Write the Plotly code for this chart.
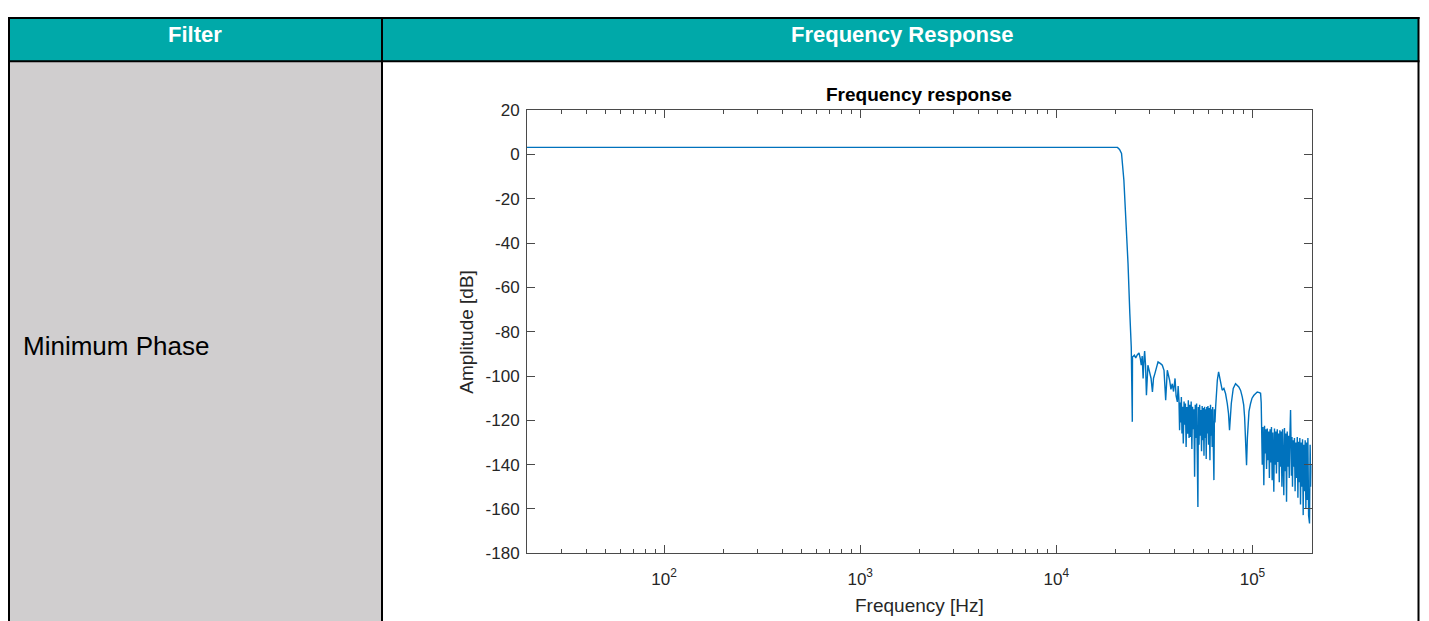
import math
import plotly.graph_objects as go

# ---------------- data ----------------
passband_freq_hz = [20, 100, 1000, 10000, 18000, 20500]
passband_db = [3.2, 3.2, 3.2, 3.2, 3.2, 3.2]

transition_freq_hz = [21000, 21500, 22100, 22600, 23200, 23700, 24100, 24400]
transition_db = [2.3, 0.5, -11.6, -26.6, -49.2, -71.8, -86.9, -120.7]

stopband_freq_khz = [
    24.45, 25.0, 25.4, 25.9, 26.4, 26.8, 27.1, 27.4, 27.7, 28.0, 28.2, 28.5, 28.8, 29.3, 29.9,
    30.4, 30.9, 31.3, 31.8, 32.4, 33.0, 34.0, 34.7, 35.4, 36.1, 36.8, 37.3, 37.8, 38.4, 39.0,
    39.6, 40.3, 40.8, 41.4, 41.8, 42.0,
    42.2, 42.5, 42.8, 43.1, 43.4, 43.7, 44.0, 44.4, 44.8, 45.2, 45.5, 45.9, 46.3, 46.7, 47.1,
    47.5, 47.9, 48.3, 48.7, 49.1, 49.5, 49.9, 50.3, 50.7, 51.1, 51.5, 51.9, 52.3, 52.7, 53.0,
    53.4, 53.8, 54.2, 54.6, 55.0, 55.4, 55.8, 56.2, 56.6, 57.0, 57.4, 57.8, 58.1, 58.5, 58.9,
    59.3, 59.7, 60.1, 60.7, 61.1, 61.5, 61.9, 62.3, 62.7, 63.1, 63.6, 64.0, 64.4, 64.9,
    65.5, 66.2, 67.2, 68.0, 68.8, 70.1, 71.5, 72.9, 74.4, 75.5, 76.4, 77.2, 78.0, 79.8, 82.0,
    85.2, 87.0, 88.7, 90.2, 91.2, 92.4, 93.3, 94.2, 94.8, 96.0, 97.8, 99.5, 101.7, 105.8, 108.5,
    110.0, 110.8, 111.3,
    112.2, 113.1, 114.3, 115.2, 116.1, 117.0, 118.0, 119.0, 120.0, 121.0, 122.0, 123.0, 124.0,
    125.0, 126.0, 127.0, 128.5, 129.5, 130.5, 131.5, 132.5, 133.8, 135.0, 136.0, 137.0, 138.0,
    139.1, 140.2, 141.3, 142.4, 143.5, 144.5, 145.6, 146.7, 147.9, 149.2, 150.4, 151.6, 152.8,
    154.0, 155.1, 156.4, 157.2, 158.0, 159.0, 160.0, 161.0, 162.5, 163.7, 165.0, 166.2, 167.5,
    169.2, 170.5, 171.8, 173.0, 174.4, 175.8, 177.2, 178.6, 180.0, 181.4, 182.8, 184.3, 185.7,
    187.2, 188.7, 190.2, 191.7, 193.3, 195.4, 196.8, 198.4, 200.0,
]
stopband_db = [
    -91.4, -90.6, -91.8, -90.4, -89.6, -92.1, -95.1, -91.0, -101.1, -92.0, -88.7, -95.0, -108.7, -95.1, -98.9,
    -101.0, -107.2, -101.0, -98.9, -95.5, -93.6, -94.4, -95.1, -97.4, -110.9, -97.4, -99.5, -101.9, -106.0, -103.5,
    -107.0, -101.1, -109.0, -111.7, -104.5, -106.4,
    -110.9, -124.5, -112.0, -121.0, -109.5, -126.0, -113.9, -130.5, -111.5, -122.0, -112.4, -132.0, -114.0, -126.0, -110.9,
    -128.0, -113.0, -127.5, -111.5, -133.0, -113.9, -124.0, -115.0, -145.5, -113.0, -128.0, -112.4, -135.0, -159.1, -114.0,
    -131.0, -113.0, -127.0, -115.4, -134.0, -113.5, -129.0, -114.5, -136.0, -113.9, -128.0, -115.0, -137.5, -114.0, -126.0,
    -113.5, -131.0, -114.5, -138.0, -113.0, -127.0, -115.0, -132.0, -114.0, -128.0, -147.0, -115.0, -121.0, -114.0,
    -108.0, -101.9, -98.1, -101.0, -103.4, -106.4, -105.6, -107.9, -112.4, -117.0, -124.5, -117.0, -112.4, -105.6, -103.5,
    -104.9, -106.5, -109.4, -113.0, -118.5, -128.0, -140.3, -128.0, -121.4, -116.0, -112.4, -110.0, -108.7, -107.2, -107.5,
    -107.8, -112.0, -122.2,
    -140.0, -123.0, -149.3, -122.5, -135.0, -124.0, -142.0, -123.7, -138.0, -125.0, -146.0, -124.0, -139.0,
    -123.0, -147.0, -125.5, -152.3, -123.7, -140.0, -125.0, -144.0, -124.0, -138.8, -126.0, -148.0, -124.5,
    -141.0, -125.0, -150.0, -124.0, -139.0, -153.8, -123.5, -143.0, -126.0, -156.8, -125.0, -141.0, -127.0,
    -146.0, -128.0, -115.4, -128.0, -145.0, -127.5, -150.0, -129.0, -141.0, -128.0, -152.0, -130.0, -146.0,
    -127.5, -155.0, -129.7, -148.0, -128.0, -158.0, -130.0, -150.0, -128.5, -162.8, -131.0, -152.0, -129.0,
    -159.8, -130.0, -156.0, -128.0, -163.0, -166.6, -131.0, -150.0, -140.0,
]

x_tick_vals = [100, 1000, 10000, 100000]
x_tick_text = ["10<sup>2</sup>", "10<sup>3</sup>", "10<sup>4</sup>", "10<sup>5</sup>"]
y_tick_vals = [-180, -160, -140, -120, -100, -80, -60, -40, -20, 0, 20]
y_tick_text = ["-180", "-160", "-140", "-120", "-100", "-80", "-60", "-40", "-20", "0", "20"]

header_labels = ["Filter", "Frequency Response"]
row_label = "Minimum Phase"
plot_title = "Frequency response"
x_label = "Frequency [Hz]"
y_label = "Amplitude [dB]"

freq_hz = passband_freq_hz + transition_freq_hz + [f * 1000 for f in stopband_freq_khz]
amp_db = passband_db + transition_db + stopband_db

# ---------------- layout helpers ----------------
# Positions below are given in window pixels; the page places the figure
# 8px from the left and slightly lower, with a small vertical scale.
FW, FH = 1421, 624
OX = 8
TOP = 17.5
SY = 0.968


def px(x):
    return (x - OX) / FW


def py(y):
    return 1 - (y / SY - TOP) / FH


plot_left, plot_right, plot_top, plot_bottom = 527.0, 1311.5, 110.0, 552.3

minor_vals = []
for dec in [10, 100, 1000, 10000, 100000]:
    for m in range(2, 10):
        v = m * dec
        if 20 <= v <= 200000:
            minor_vals.append(v)

fig = go.Figure()
fig.add_trace(go.Scatter(
    x=freq_hz, y=amp_db, mode="lines",
    line=dict(color="#0072BD", width=1.4),
    showlegend=False, hoverinfo="skip",
))

axis_color = "#4a4a4a"
tick_font = dict(family="Liberation Sans, Arial, sans-serif", size=17, color="#262626")

fig.update_layout(
    width=FW, height=FH,
    margin=dict(l=0, r=0, t=0, b=0),
    paper_bgcolor="white", plot_bgcolor="white",
    xaxis=dict(
        type="log",
        domain=[px(plot_left), px(plot_right)],
        range=[math.log10(20), math.log10(200000)],
        tickmode="array", tickvals=x_tick_vals, ticktext=x_tick_text,
        ticks="inside", ticklen=8, tickwidth=1, tickcolor=axis_color,
        showline=True, linecolor=axis_color, linewidth=1, mirror="ticks",
        showgrid=False, zeroline=False,
        tickfont=tick_font, ticklabelstandoff=10,
        minor=dict(tickmode="array", tickvals=minor_vals, ticks="inside",
                   ticklen=4, tickwidth=1, tickcolor=axis_color, showgrid=False),
    ),
    yaxis=dict(
        domain=[py(plot_bottom), py(plot_top)],
        range=[-180, 20],
        tickmode="array", tickvals=y_tick_vals, ticktext=y_tick_text,
        ticks="inside", ticklen=8, tickwidth=1, tickcolor=axis_color,
        showline=True, linecolor=axis_color, linewidth=1, mirror="ticks",
        showgrid=False, zeroline=False,
        tickfont=tick_font, ticklabelstandoff=3,
    ),
)

# ---------------- table ----------------
teal = "#00A9A9"
gray = "#D0CECF"
left, top, right, bottom = 9.0, 18.0, 1418.5, 640
header_bottom = 61
col_div = 382

shapes = [
    dict(type="rect", xref="paper", yref="paper", x0=px(left), x1=px(right), y0=py(header_bottom), y1=py(top),
         fillcolor=teal, line=dict(width=0), layer="below"),
    dict(type="rect", xref="paper", yref="paper", x0=px(left), x1=px(col_div), y0=py(bottom), y1=py(header_bottom),
         fillcolor=gray, line=dict(width=0), layer="below"),
]
for (x0, y0, x1, y1) in [
    (left, top - 1, left, bottom),
    (right, top - 1, right, bottom),
    (left - 1, top, right + 1, top),
    (left - 1, header_bottom, right + 1, header_bottom),
    (col_div, top, col_div, bottom),
]:
    shapes.append(dict(type="line", xref="paper", yref="paper",
                       x0=px(x0), x1=px(x1), y0=py(y0), y1=py(y1),
                       line=dict(color="black", width=2), layer="above"))
fig.update_layout(shapes=shapes)

header_font = dict(family="Liberation Sans, Arial, sans-serif", size=22, color="white")
annotations = [
    dict(text="<b>%s</b>" % header_labels[0], x=px((left + col_div) / 2), y=py(34),
         font=header_font),
    dict(text="<b>%s</b>" % header_labels[1], x=px(902), y=py(34),
         font=header_font),
    dict(text=row_label, x=px(21), y=py(345), xanchor="left",
         font=dict(family="Liberation Sans, Arial, sans-serif", size=26, color="black")),
    dict(text="<b>%s</b>" % plot_title, x=px((plot_left + plot_right) / 2), y=py(94),
         font=dict(family="Liberation Sans, Arial, sans-serif", size=19, color="black")),
    dict(text=x_label, x=px((plot_left + plot_right) / 2), y=py(604),
         font=dict(family="Liberation Sans, Arial, sans-serif", size=19, color="#262626")),
    dict(text=y_label, x=px(467), y=py((plot_top + plot_bottom) / 2), textangle=-90,
         font=dict(family="Liberation Sans, Arial, sans-serif", size=19, color="#262626")),
]
for a in annotations:
    a.setdefault("xref", "paper")
    a.setdefault("yref", "paper")
    a.setdefault("showarrow", False)
    a.setdefault("xanchor", "center")
    a.setdefault("yanchor", "middle")
fig.update_layout(annotations=annotations)

fig.write_html("out.html")
